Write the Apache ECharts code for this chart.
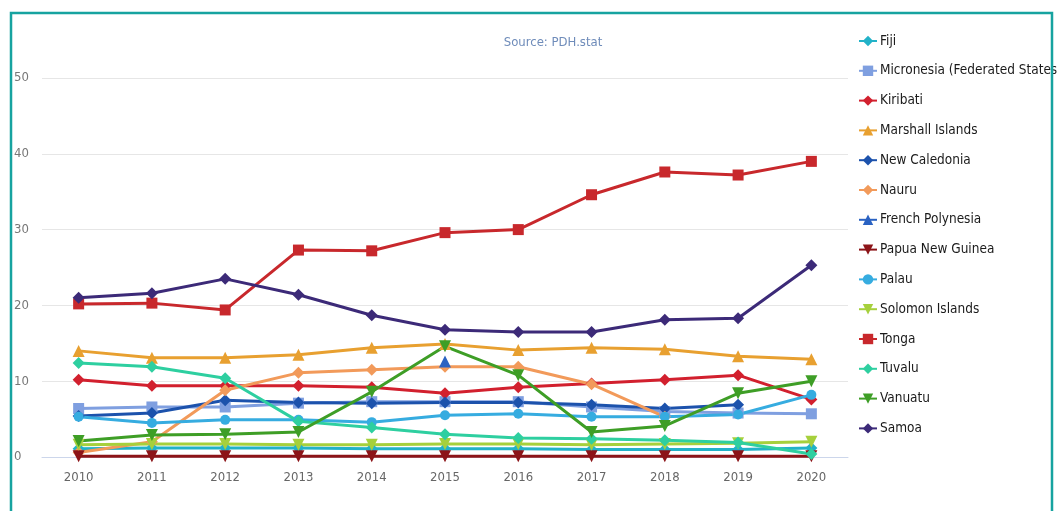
<!DOCTYPE html>
<html><head><meta charset="utf-8">
<script src="https://cdn.jsdelivr.net/npm/echarts@6/dist/echarts.min.js"></script>
<style>html,body{margin:0;padding:0;background:#fff}#c{width:1058px;height:511px}</style>
</head><body><div id="c"></div>
<script>
const years = ['2010','2011','2012','2013','2014','2015','2016','2017','2018','2019','2020'];
const yTicks = [0,10,20,30,40,50];
const fiji        = [1.1,1.2,1.2,1.2,1.1,1.1,1.1,1.0,1.0,1.0,1.2];
const micronesia  = [6.4,6.6,6.6,7.1,7.3,7.3,7.3,6.6,6.0,5.8,5.7];
const kiribati    = [10.2,9.4,9.4,9.4,9.2,8.4,9.2,9.7,10.2,10.8,7.6];
const marshall    = [14.0,13.1,13.1,13.5,14.4,14.9,14.1,14.4,14.2,13.3,12.9];
const newCaledonia= [5.4,5.8,7.5,7.2,7.1,7.2,7.2,6.9,6.4,6.9,null];
const nauru       = [0.6,2.0,8.8,11.1,11.5,11.9,11.9,9.6,5.3,null,null];
const frenchPoly  = [null,null,null,null,null,12.6,null,null,null,null,null];
const png         = [0.1,0.1,0.1,0.1,0.1,0.1,0.1,0.1,0.1,0.1,0.1];
const palau       = [5.3,4.5,4.9,4.9,4.6,5.5,5.7,5.3,5.3,5.6,8.2];
const solomon     = [1.6,1.7,1.7,1.6,1.6,1.7,1.7,1.6,1.7,1.8,2.0];
const tonga       = [20.2,20.3,19.4,27.3,27.2,29.6,30.0,34.6,37.6,37.2,39.0];
const tuvalu      = [12.4,11.9,10.4,4.7,3.9,3.0,2.5,2.4,2.2,1.9,0.4];
const vanuatu     = [2.1,2.9,3.0,3.3,8.6,14.6,10.8,3.3,4.1,8.4,10.0];
const samoa       = [21.0,21.6,23.5,21.4,18.7,16.8,16.5,16.5,18.1,18.3,25.3];

const defs = [
  ['Fiji', fiji, '#22b2c8', 'diamond', 0],
  ['Micronesia (Federated States of)', micronesia, '#7f9fe0', 'rect', 0],
  ['Kiribati', kiribati, '#d2202e', 'diamond', 0],
  ['Marshall Islands', marshall, '#e8a030', 'triangle', 0],
  ['New Caledonia', newCaledonia, '#1c52ac', 'diamond', 0],
  ['Nauru', nauru, '#f29a5a', 'diamond', 0],
  ['French Polynesia', frenchPoly, '#2a62c2', 'triangle', 0],
  ['Papua New Guinea', png, '#8c1418', 'triangle', 180],
  ['Palau', palau, '#36ace0', 'circle', 0],
  ['Solomon Islands', solomon, '#a6d03c', 'triangle', 180],
  ['Tonga', tonga, '#c8282c', 'rect', 0],
  ['Tuvalu', tuvalu, '#2ecfa0', 'diamond', 0],
  ['Vanuatu', vanuatu, '#3e9e26', 'triangle', 180],
  ['Samoa', samoa, '#3c2a78', 'diamond', 0]
];

const font = "'Liberation Sans Narrow','DejaVu Sans Condensed','Roboto',sans-serif";
const chart = echarts.init(document.getElementById('c'), null, {renderer:'canvas'});
chart.setOption({
  animation:false,
  backgroundColor:'#ffffff',
  title:{text:'Source: PDH.stat', left:548, textAlign:'center', top:31,
    textStyle:{color:'#6f8cba', fontSize:13, fontWeight:'normal', fontFamily:font}},
  graphic:[{type:'rect', shape:{x:11,y:13,width:1041,height:520},
    style:{fill:'none', stroke:'#17a3a0', lineWidth:2.5}, z:100}],
  legend:{orient:'vertical', left:853, top:29, itemGap:15.8, itemWidth:18, itemHeight:13,
    textStyle:{color:'#1a1a1a', fontSize:13.5, fontFamily:font, padding:[0,0,0,-2]},
    data:defs.map(d=>d[0])},
  grid:{left:42, right:210, top:78, bottom:54},
  xAxis:{type:'category', data:years, boundaryGap:true,
    axisLine:{lineStyle:{color:'#ccd6eb', width:1}}, axisTick:{show:false},
    axisLabel:{color:'#666', fontSize:13, fontFamily:font, margin:14}},
  yAxis:{type:'value', min:0, max:50, interval:10,
    axisLabel:{color:'#777', fontSize:13, fontFamily:font, margin:28, align:'left',
      formatter:v=>yTicks.includes(v)?String(v):''},
    splitLine:{lineStyle:{color:'#e6e6e6'}}},
  series:defs.map(d=>({name:d[0], type:'line', data:d[1], color:d[2],
    symbol:d[3], symbolRotate:d[4], symbolSize:d[3]==='rect'?11:(d[3]==='circle'?10:12),
    showAllSymbol:true, connectNulls:false,
    lineStyle:{width:3, color:d[2]}, itemStyle:{color:d[2]}}))
});
</script></body></html>
